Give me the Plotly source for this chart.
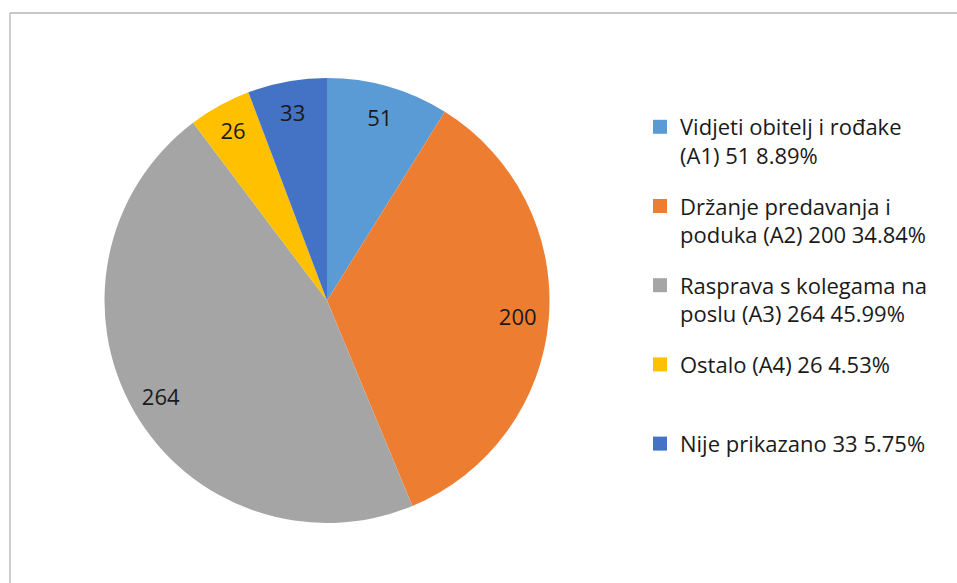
import plotly.graph_objects as go

# podaci
kategorije = [
    "Vidjeti obitelj i rođake<br>(A1) 51 8.89%",
    "Držanje predavanja i<br>poduka (A2) 200 34.84%",
    "Rasprava s kolegama na<br>poslu (A3) 264 45.99%",
    "Ostalo (A4) 26 4.53%",
    "Nije prikazano 33 5.75%",
]
vrijednosti = [51, 200, 264, 26, 33]
boje = ["#5B9BD5", "#ED7D31", "#A5A5A5", "#FFC000", "#4472C4"]

W, H = 957, 583
FONT = "Open Sans"
LEG_SIZE = 22

domena = dict(x=[104 / W, 550 / W], y=[1 - 523 / H, 1 - 78 / H])

fig = go.Figure()

# glavni pie
fig.add_trace(go.Pie(
    labels=kategorije,
    values=vrijednosti,
    marker=dict(colors=boje, line=dict(width=0)),
    sort=False,
    direction="clockwise",
    rotation=0,
    textinfo="none",
    hoverinfo="label+value",
    showlegend=False,
    domain=domena,
))

# prozirni prsten samo za oznake (da budu blizu ruba kao u Excelu)
fig.add_trace(go.Pie(
    labels=kategorije,
    values=vrijednosti,
    hole=0.72,
    marker=dict(colors=["rgba(0,0,0,0)"] * 5, line=dict(width=0)),
    sort=False,
    direction="clockwise",
    rotation=0,
    textinfo="value",
    textposition="inside",
    insidetextorientation="horizontal",
    textfont=dict(family=FONT, size=22, color="#1a1a1a"),
    hoverinfo="skip",
    showlegend=False,
    domain=domena,
))

# legenda preko praznih traceova, svaki u svojoj grupi -> jednak razmak
for i, (k, b) in enumerate(zip(kategorije, boje)):
    n = k.count("<br>") + 1
    fig.add_trace(go.Scatter(
        x=[None], y=[None], mode="markers",
        name=k + "<br>\u00a0" * (2 - n),
        marker=dict(symbol="square", size=14, color=b),
        legendgroup="g%d" % i,
        hoverinfo="skip",
    ))

fig.update_layout(
    width=W, height=H,
    margin=dict(l=0, r=0, t=0, b=0),
    paper_bgcolor="white",
    plot_bgcolor="white",
    font=dict(family=FONT, color="#1a1a1a"),
    xaxis=dict(visible=False),
    yaxis=dict(visible=False),
    legend=dict(
        x=640 / W, y=1 - 106 / H,
        xanchor="left", yanchor="top",
        valign="top",
        tracegroupgap=19,
        font=dict(family=FONT, size=LEG_SIZE, color="#1a1a1a"),
        bgcolor="rgba(0,0,0,0)",
    ),
    shapes=[
        dict(type="line", xref="paper", yref="paper",
             x0=10 / W, x1=1, y0=1 - 13 / H, y1=1 - 13 / H,
             line=dict(color="#b5b5b5", width=1.3)),
        dict(type="line", xref="paper", yref="paper",
             x0=10 / W, x1=10 / W, y0=0, y1=1 - 13 / H,
             line=dict(color="#b5b5b5", width=1.3)),
    ],
)

fig.write_html(
    "out.html",
    config={"displayModeBar": False},
    post_script="document.body.style.margin='0';document.body.style.overflow='hidden';",
)
